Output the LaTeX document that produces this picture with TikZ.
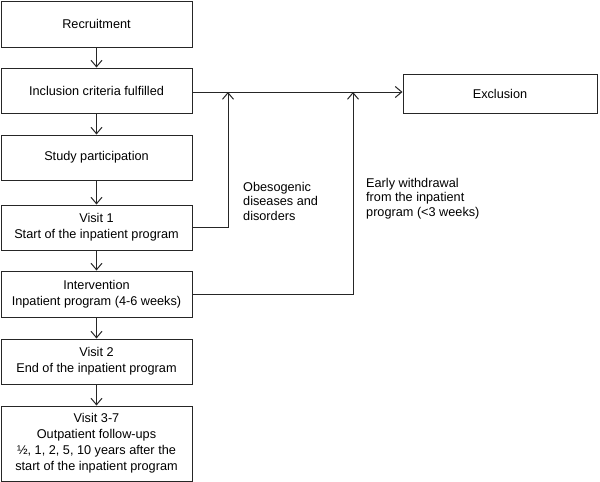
\documentclass[tikz,border=0pt]{standalone}
\usepackage{fontspec}
\setmainfont{Liberation Sans}
\usetikzlibrary{arrows.meta}
\begin{document}
\begin{tikzpicture}[x=1pt,y=-1pt,
  box/.style={draw=black!85, line width=1pt, minimum width=191pt, align=center, inner sep=2pt,
    font=\fontsize{12.7}{16}\selectfont},
  lbl/.style={align=left, anchor=north west, inner sep=0pt, font=\fontsize{12.7}{14.5}\selectfont},
  conn/.style={draw=black!85, line width=1pt},
  arr/.style={conn, -{Straight Barb[length=6.5pt,width=11pt,line width=1pt]}}]
\useasboundingbox (0,0) rectangle (600,482);
\node[box, minimum height=46pt] (rec) at (96.5,24) {Recruitment};
\node[box, minimum height=45pt] (inc) at (96.5,90.5) {Inclusion criteria fulfilled};
\node[box, minimum height=45pt] (stu) at (96.5,157.5) {Study participation};
\node[box, minimum height=45pt] (v1) at (96.5,227.5) {Visit 1\\Start of the inpatient program};
\node[box, minimum height=46pt] (int) at (96.5,294) {Intervention\\Inpatient program (4-6 weeks)};
\node[box, minimum height=45pt] (v2) at (96.5,361.5) {Visit 2\\End of the inpatient program};
\node[box, minimum height=75pt] (v37) at (96.5,443.5) {Visit 3-7\\Outpatient follow-ups\\½, 1, 2, 5, 10 years after the\\start of the inpatient program};
\node[box, minimum width=194pt, minimum height=39pt] (exc) at (500,93.5) {Exclusion};
\coordinate (j1) at (228,92);
\coordinate (j2) at (353,92);
\node[lbl] (l1) at (243,182) {Obesogenic\\diseases and\\disorders};
\node[lbl] (l2) at (366,178) {Early withdrawal\\from the inpatient\\program (<3 weeks)};
\draw[arr] (rec) -- (inc);
\draw[arr] (inc) -- (stu);
\draw[arr] (stu) -- (v1);
\draw[arr] (v1) -- (int);
\draw[arr] (int) -- (v2);
\draw[arr] (v2) -- (v37);
\draw[arr] (inc.east |- j1) -- (j1 -| exc.west);
\draw[arr] (v1.east) -| (j1);
\draw[arr] (int.east) -| (j2);
\end{tikzpicture}
\end{document}
